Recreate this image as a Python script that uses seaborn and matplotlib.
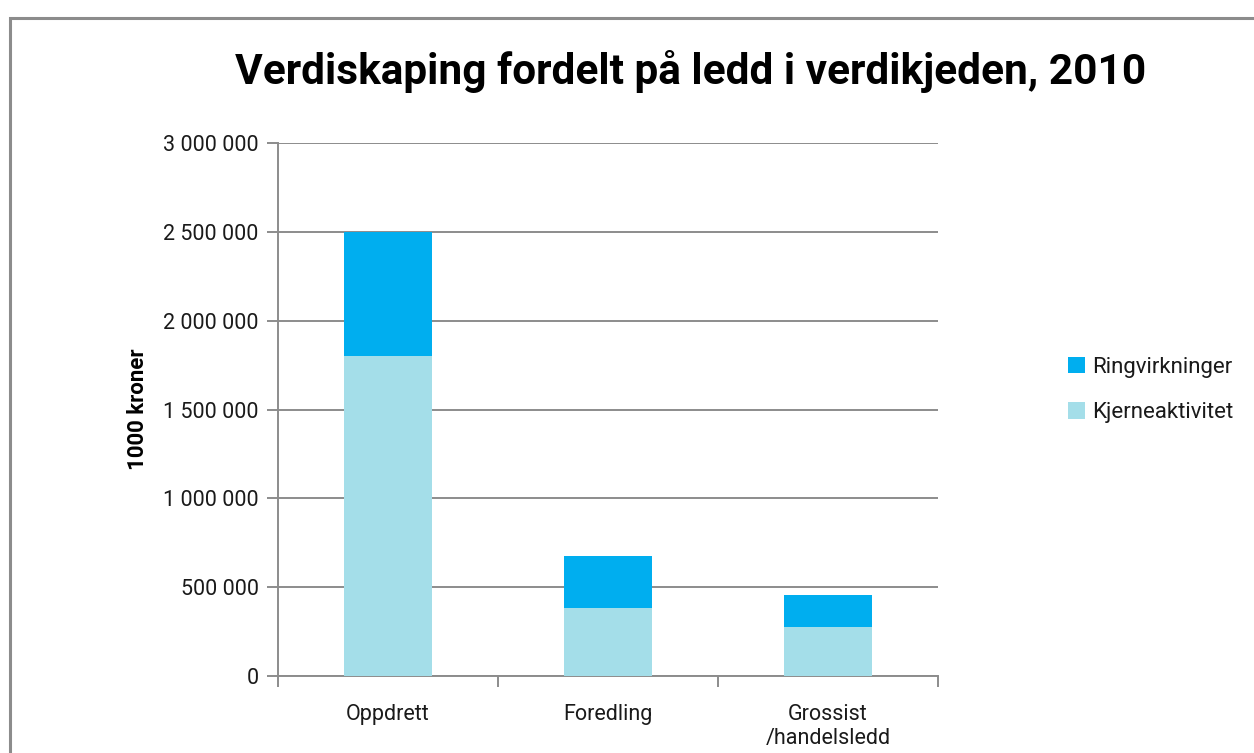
import matplotlib
matplotlib.use("Agg")
import matplotlib.pyplot as plt
import seaborn as sns
import pandas as pd
from matplotlib.patches import Patch, Rectangle
from matplotlib.ticker import FuncFormatter

categories = ["Oppdrett", "Foredling", "Grossist\n/handelsledd"]
kjerneaktivitet = [1800000, 384000, 277000]
ringvirkninger = [700000, 290000, 178000]
series_names = ["Ringvirkninger", "Kjerneaktivitet"]
yticks = [0, 500000, 1000000, 1500000, 2000000, 2500000, 3000000]

col_ring = "#00AEEF"
col_kjerne = "#A4DEE9"
grid_col = "#8C8C8C"
txt_col = "#000000"

sns.set_theme(style="white")
plt.rcParams["font.family"] = ["Roboto", "DejaVu Sans"]

totals = [k + r for k, r in zip(kjerneaktivitet, ringvirkninger)]
df = pd.DataFrame({"cat": categories, "total": totals, "kjerne": kjerneaktivitet})

fig = plt.figure(figsize=(12.54, 7.53), dpi=100)
ax = fig.add_axes([0.2217, 0.1023, 0.5263, 0.7077])

sns.barplot(data=df, x="cat", y="total", color=col_ring, width=0.4,
            saturation=1, ax=ax, zorder=3, linewidth=0)
sns.barplot(data=df, x="cat", y="kjerne", color=col_kjerne, width=0.4,
            saturation=1, ax=ax, zorder=4, linewidth=0)

ax.set_xlim(-0.5, 2.5)
ax.set_ylim(0, 3000000)
ax.set_yticks(yticks)
ax.yaxis.set_major_formatter(FuncFormatter(lambda v, p: f"{int(v):,}".replace(",", " ")))
ax.yaxis.grid(True, color=grid_col, linewidth=1.4, zorder=0)
ax.set_axisbelow(True)

for s in ["top", "right"]:
    ax.spines[s].set_visible(False)
for s in ["left", "bottom"]:
    ax.spines[s].set_color(grid_col)
    ax.spines[s].set_linewidth(1.4)

ax.tick_params(axis="y", left=True, length=8, width=1.4, color=grid_col,
               labelsize=15.5, labelcolor="#1a1a1a", pad=6)
ax.set_xticks([0, 1, 2])
ax.set_xticklabels(categories)
ax.tick_params(axis="x", bottom=False, labelsize=15.5, labelcolor="#1a1a1a", pad=14)
ax.set_xticks([-0.5, 0.5, 1.5, 2.5], minor=True)
ax.tick_params(axis="x", which="minor", bottom=True, length=8, width=1.4, color=grid_col)

ax.set_xlabel("")
ax.set_ylabel("1000 kroner", fontsize=16, fontweight="bold", color=txt_col, labelpad=10)

fig.text(0.551, 0.905, "Verdiskaping fordelt på ledd i verdikjeden, 2010",
         ha="center", va="center", fontsize=30.5, fontweight="bold", color=txt_col)

handles = [Patch(facecolor=col_ring, edgecolor="none"),
           Patch(facecolor=col_kjerne, edgecolor="none")]
leg = fig.legend(handles, series_names, loc="center left", bbox_to_anchor=(0.836, 0.482),
                 frameon=False, fontsize=16, handlelength=0.75, handleheight=0.75,
                 handletextpad=0.3, labelspacing=1.1)
for t in leg.get_texts():
    t.set_color("#1a1a1a")

fig.patches.append(Rectangle((0.008, -0.05), 1.1, 1.026, transform=fig.transFigure,
                             fill=False, edgecolor="#8C8C8C", linewidth=2.2))

fig.savefig("out.png", dpi=100)
